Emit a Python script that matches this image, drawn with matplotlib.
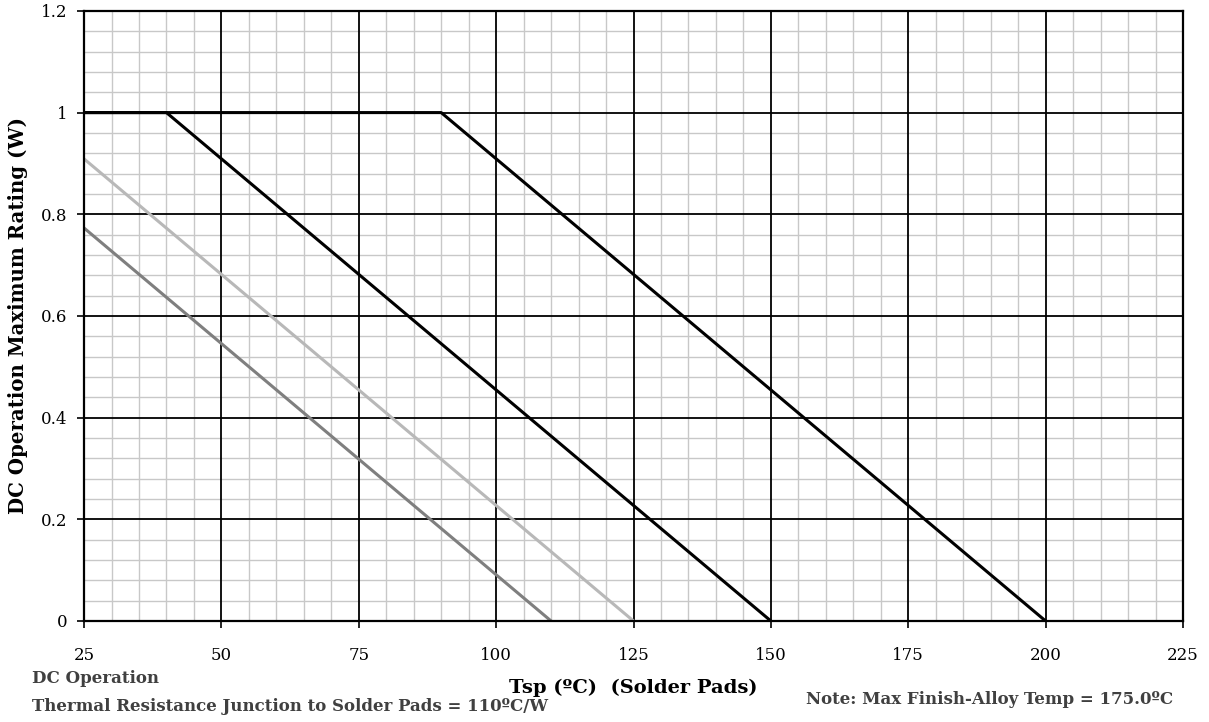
import matplotlib
matplotlib.use("Agg")
import matplotlib.pyplot as plt
import numpy as np

# derating curves: (Tsp, W)
curve_a_x = [25, 40, 150]
curve_a_y = [1.0, 1.0, 0.0]
curve_b_x = [25, 90, 200]
curve_b_y = [1.0, 1.0, 0.0]
curve_c_x = [25, 125]
curve_c_y = [0.909, 0.0]
curve_d_x = [25, 110]
curve_d_y = [0.773, 0.0]

x_ticks = [25, 50, 75, 100, 125, 150, 175, 200, 225]
y_ticks = [0, 0.2, 0.4, 0.6, 0.8, 1.0, 1.2]
y_labels = ["0", "0.2", "0.4", "0.6", "0.8", "1", "1.2"]

plt.rcParams['font.family'] = ['DejaVu Serif']

fig = plt.figure(figsize=(12.09, 7.22), dpi=100)
ax = fig.add_axes([0.0695, 0.1399, 0.909, 0.845])

ax.set_xlim(25, 225)
ax.set_ylim(0, 1.2)
ax.set_xticks(x_ticks)
ax.set_yticks(y_ticks)
ax.set_yticklabels(y_labels)
ax.set_xticks(np.arange(25, 226, 5), minor=True)
ax.set_yticks(np.arange(0, 1.201, 0.04), minor=True)

# light minor grid below, black major grid on top of it
ax.grid(which='minor', color='#c8c8c8', linewidth=1.0)
ax.set_axisbelow(True)
for xv in x_ticks:
    ax.axvline(xv, color='black', linewidth=1.3, zorder=1)
for yv in y_ticks:
    ax.axhline(yv, color='black', linewidth=1.3, zorder=1)

ax.tick_params(which='minor', length=0)
ax.tick_params(which='major', direction='out', length=5, width=1.2,
               labelsize=12, colors='black')
ax.tick_params(axis='x', pad=14)
ax.tick_params(axis='y', pad=7)
for s in ax.spines.values():
    s.set_linewidth(1.6)
    s.set_zorder(5)

ax.plot(curve_d_x, curve_d_y, color='#7f7f7f', linewidth=2.2, zorder=3)
ax.plot(curve_c_x, curve_c_y, color='#b8b8b8', linewidth=2.2, zorder=3)
ax.plot(curve_a_x, curve_a_y, color='black', linewidth=2.2, zorder=4)
ax.plot(curve_b_x, curve_b_y, color='black', linewidth=2.2, zorder=4)

ax.set_ylabel("DC Operation Maximum Rating (W)", fontsize=14.2,
              fontweight='bold', labelpad=9)

fig.text(0.524, 0.047, "Tsp (ºC)  (Solder Pads)", fontsize=14,
         fontweight='bold', ha='center', va='center')
fig.text(0.0265, 0.0596, "DC Operation", fontsize=12, fontweight='bold',
         color='#404040', ha='left', va='center')
fig.text(0.0265, 0.0208, "Thermal Resistance Junction to Solder Pads = 110ºC/W",
         fontsize=12, fontweight='bold', color='#404040', ha='left', va='center')
fig.text(0.970, 0.0305, "Note: Max Finish-Alloy Temp = 175.0ºC",
         fontsize=12, fontweight='bold', color='#404040', ha='right', va='center')

fig.savefig("out.png", dpi=100)
